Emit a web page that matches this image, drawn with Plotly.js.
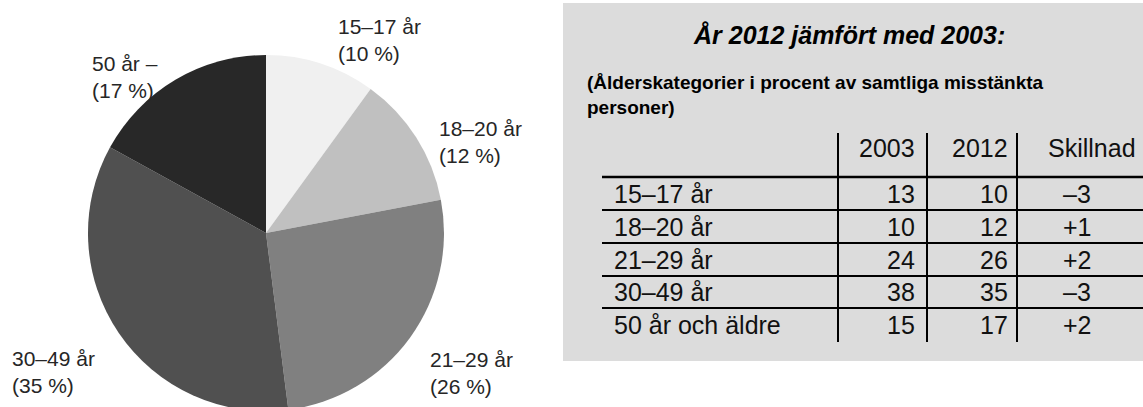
<!DOCTYPE html>
<html>
<head>
<meta charset="utf-8">
<script src="https://cdn.plot.ly/plotly-3.0.1.min.js"></script>
<style>
html,body{margin:0;padding:0;background:#fff;overflow:hidden;}
#chart{width:1143px;height:411px;}
</style>
</head>
<body>
<div id="chart"></div>
<script>
// ---- data ----
const pieLabels = ['15\u201317 år', '18\u201320 år', '21\u201329 år', '30\u201349 år', '50 år \u2013'];
const pieValues = [10, 12, 26, 35, 17];
const pieColors = ['#f0f0f0', '#c0c0c0', '#808080', '#505050', '#282828'];

const titleText = 'År 2012 jämfört med 2003:';
const subtitleText = '(Ålderskategorier i procent av samtliga misstänkta<br>personer)';

const tableHeader = ['2003', '2012', 'Skillnad'];
const tableRows = ['15\u201317 år', '18\u201320 år', '21\u201329 år', '30\u201349 år', '50 år och äldre'];
const share2003 = [13, 10, 24, 38, 15];
const share2012 = [10, 12, 26, 35, 17];
const diffText = ['\u20133', '+1', '+2', '\u20133', '+2'];

// ---- layout helpers (pixel -> paper) ----
const W = 1143, H = 411;
const X = px => px / W;
const Y = py => 1 - py / H;
const FONT = 'Liberation Sans, Arial, Helvetica, sans-serif';

// pie geometry
const cx = 266, cy = 233, r = 178;

const pie = {
  type: 'pie',
  labels: pieLabels,
  values: pieValues,
  sort: false,
  direction: 'clockwise',
  rotation: 0,
  marker: {colors: pieColors, line: {width: 0}},
  textinfo: 'none',
  hoverinfo: 'none',
  showlegend: false,
  domain: {x: [X(cx - r), X(cx + r)], y: [Y(cy + r), Y(cy - r)]}
};

const annotations = [];
const shapes = [];

// pie labels
const labelFont = 21;
const labelPos = [[336, 33], [437, 135], [428, 366], [10, 365], [90, 70]];
pieLabels.forEach((lab, i) => {
  const [lx, b] = labelPos[i];
  annotations.push({
    xref: 'paper', yref: 'paper', x: X(lx), y: Y(b - 0.905 * labelFont - 1),
    xanchor: 'left', yanchor: 'top', align: 'left', showarrow: false,
    text: lab + '<br>(' + pieValues[i] + ' %)',
    font: {family: FONT, size: labelFont, color: '#262626'}
  });
});

// panel
shapes.push({type: 'rect', xref: 'paper', yref: 'paper', x0: X(563), x1: X(1143), y0: Y(361), y1: Y(3),
  fillcolor: '#dcdcdc', line: {width: 0}, layer: 'below'});

// title
const tSize = 25;
annotations.push({xref: 'paper', yref: 'paper', x: X(691), y: Y(44 - 0.3465 * tSize),
  xanchor: 'left', yanchor: 'middle', showarrow: false,
  text: '<b><i>' + titleText + '</i></b>', font: {family: FONT, size: tSize, color: '#000'}});

// subtitle
const sSize = 19;
annotations.push({xref: 'paper', yref: 'paper', x: X(585), y: Y(88 - 0.905 * sSize - 1),
  xanchor: 'left', yanchor: 'top', align: 'left', showarrow: false,
  text: '<b>' + subtitleText + '</b>', font: {family: FONT, size: sSize, color: '#000'}});

// table
const tf = 25;
const cellFont = {family: FONT, size: tf, color: '#111'};
const headerBase = 157;
const rowBase0 = 203, rowStep = 32.6;
const colRight2003 = 917, colRight2012 = 1010, colDiffCenter = 1077, colLabelLeft = 612, headerSkillLeft = 1046;
const mid = b => Y(b - 0.3465 * tf);

annotations.push({xref: 'paper', yref: 'paper', x: X(colRight2003), y: mid(headerBase), xanchor: 'right', yanchor: 'middle', showarrow: false, text: tableHeader[0], font: cellFont});
annotations.push({xref: 'paper', yref: 'paper', x: X(colRight2012), y: mid(headerBase), xanchor: 'right', yanchor: 'middle', showarrow: false, text: tableHeader[1], font: cellFont});
annotations.push({xref: 'paper', yref: 'paper', x: X(headerSkillLeft), y: mid(headerBase), xanchor: 'left', yanchor: 'middle', showarrow: false, text: tableHeader[2], font: cellFont});

tableRows.forEach((row, i) => {
  const b = rowBase0 + i * rowStep;
  annotations.push({xref: 'paper', yref: 'paper', x: X(colLabelLeft), y: mid(b), xanchor: 'left', yanchor: 'middle', showarrow: false, text: row, font: cellFont});
  annotations.push({xref: 'paper', yref: 'paper', x: X(colRight2003), y: mid(b), xanchor: 'right', yanchor: 'middle', showarrow: false, text: String(share2003[i]), font: cellFont});
  annotations.push({xref: 'paper', yref: 'paper', x: X(colRight2012), y: mid(b), xanchor: 'right', yanchor: 'middle', showarrow: false, text: String(share2012[i]), font: cellFont});
  annotations.push({xref: 'paper', yref: 'paper', x: X(colDiffCenter), y: mid(b), xanchor: 'center', yanchor: 'middle', showarrow: false, text: diffText[i], font: cellFont});
});

// table lines
const lineYs = [177, 210, 243, 276, 308];
lineYs.forEach((ly, i) => {
  shapes.push({type: 'line', xref: 'paper', yref: 'paper', x0: X(602), x1: X(1143), y0: Y(ly), y1: Y(ly),
    line: {color: '#000', width: i === 0 ? 2.5 : 2}});
});
[838, 927, 1017].forEach(vx => {
  shapes.push({type: 'line', xref: 'paper', yref: 'paper', x0: X(vx), x1: X(vx), y0: Y(133), y1: Y(342),
    line: {color: '#000', width: 2}});
});

const layout = {
  width: W, height: H,
  margin: {l: 0, r: 0, t: 0, b: 0, pad: 0},
  paper_bgcolor: '#fff', plot_bgcolor: '#fff',
  showlegend: false,
  annotations: annotations,
  shapes: shapes,
  font: {family: FONT}
};

Plotly.newPlot('chart', [pie], layout, {staticPlot: true, displayModeBar: false});
</script>
</body>
</html>
